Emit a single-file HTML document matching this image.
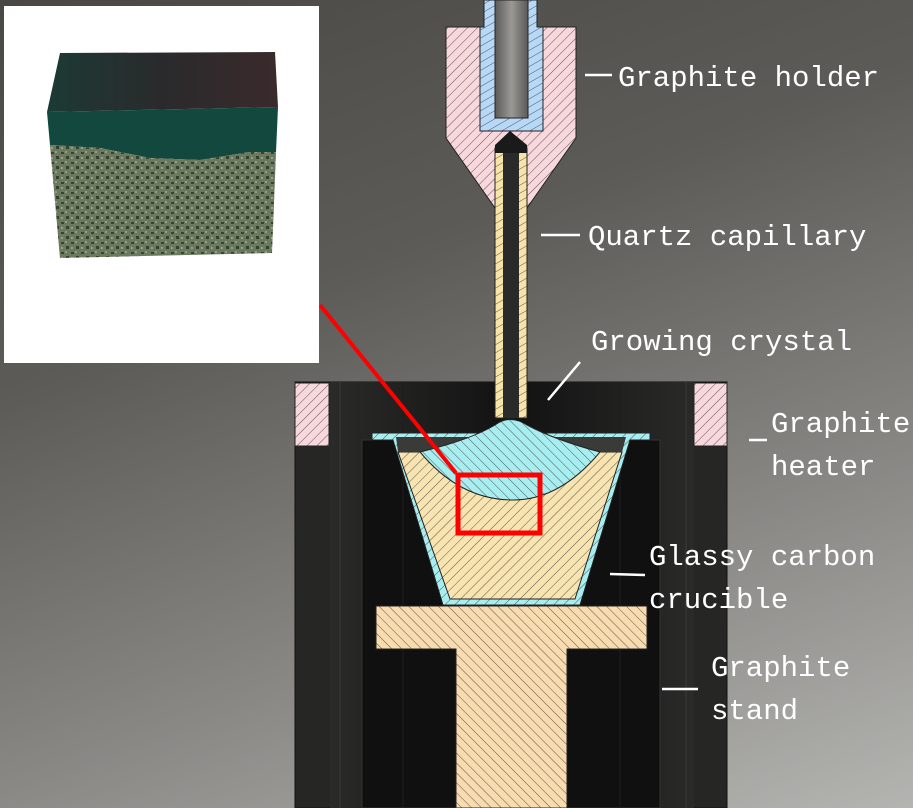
<!DOCTYPE html>
<html><head><style>
html,body{margin:0;padding:0}
body{width:913px;height:808px;overflow:hidden;background:linear-gradient(160deg,#4a4844 0%,#5c5b57 35%,#8a8986 70%,#b4b4b1 100%)}
text{font-family:"Liberation Mono","DejaVu Sans Mono",monospace;font-size:29px;fill:#fff}
</style></head><body>
<svg width="913" height="808" viewBox="0 0 913 808" xmlns="http://www.w3.org/2000/svg" style="position:absolute;left:0;top:0">
<defs>
<pattern id="h1" width="7" height="7" patternUnits="userSpaceOnUse" patternTransform="rotate(45)"><line x1="0" y1="0" x2="0" y2="7" stroke="#333" stroke-width="0.8"/></pattern>
<pattern id="h2" width="7" height="7" patternUnits="userSpaceOnUse" patternTransform="rotate(-45)"><line x1="0" y1="0" x2="0" y2="7" stroke="#333" stroke-width="0.8"/></pattern>
<pattern id="h3" width="7" height="7" patternUnits="userSpaceOnUse" patternTransform="rotate(60)"><line x1="0" y1="0" x2="0" y2="7" stroke="#333" stroke-width="0.8"/></pattern>
<linearGradient id="rod" x1="0" x2="1"><stop offset="0" stop-color="#5a5a58"/><stop offset="0.5" stop-color="#9a9996"/><stop offset="1" stop-color="#5a5a58"/></linearGradient>
<linearGradient id="wall" x1="0" x2="1"><stop offset="0" stop-color="#2a2a29"/><stop offset="0.5" stop-color="#121212"/><stop offset="1" stop-color="#2a2a29"/></linearGradient>
<linearGradient id="topface" x1="0" x2="1"><stop offset="0" stop-color="#1c3a34"/><stop offset="0.5" stop-color="#2a2a2c"/><stop offset="1" stop-color="#3a2a2c"/></linearGradient>
<pattern id="speck" width="10" height="10" patternUnits="userSpaceOnUse"><rect width="10" height="10" fill="#7d8a6e"/><rect x="1" y="2" width="3" height="2" fill="#2c3a2a"/><rect x="6" y="6" width="3" height="3" fill="#2a3526"/><rect x="5" y="1" width="2" height="2" fill="#b8c4a4"/><rect x="1" y="7" width="2" height="2" fill="#c0c8ae"/></pattern>
</defs>
<rect x="295" y="382" width="432" height="426" fill="#262625" stroke="#111"/>
<rect x="330" y="382" width="364" height="426" fill="url(#wall)"/>
<rect x="362" y="440" width="298" height="368" fill="#101010" stroke="#333"/>
<line x1="340" y1="382" x2="340" y2="808" stroke="#3a3a38"/>
<line x1="686" y1="382" x2="686" y2="808" stroke="#3a3a38"/>
<line x1="403" y1="382" x2="403" y2="808" stroke="#1e1e1e"/>
<line x1="620" y1="382" x2="620" y2="808" stroke="#1e1e1e"/>
<rect x="295" y="383" width="34" height="63" fill="#f8d8dc"/><rect x="295" y="383" width="34" height="63" fill="url(#h1)" stroke="#222"/>
<rect x="694" y="383" width="33" height="63" fill="#f8d8dc"/><rect x="694" y="383" width="33" height="63" fill="url(#h1)" stroke="#222"/>
<path d="M372 433 L650 433 L650 440 L630 440 L580 605 L443 605 L393 440 L372 440 Z" fill="#a8eef0"/>
<path d="M372 433 L650 433 L650 440 L630 440 L580 605 L443 605 L393 440 L372 440 Z" fill="url(#h1)" stroke="#222"/>
<path d="M398 452 L622 452 L575 599 L450 599 Z" fill="#f8e4b0"/>
<path d="M398 452 L622 452 L575 599 L450 599 Z" fill="url(#h1)" stroke="#222"/>
<path d="M396 437 L626 437 L622 452 L398 452 Z" fill="#3a3a38"/>
<path d="M420 452 Q470 440 495 425 Q510 414 527 425 Q555 440 600 452 Q560 500 513 500 Q460 500 420 452 Z" fill="#a8eef0"/>
<path d="M420 452 Q470 440 495 425 Q510 414 527 425 Q555 440 600 452 Q560 500 513 500 Q460 500 420 452 Z" fill="url(#h2)" stroke="#222"/>
<path d="M376 606 L647 606 L647 649 L567 649 L567 808 L456 808 L456 649 L376 649 Z" fill="#f8dcb0"/>
<path d="M376 606 L647 606 L647 649 L567 649 L567 808 L456 808 L456 649 L376 649 Z" fill="url(#h2)" stroke="#222"/>
<path d="M446 27 L484 27 L484 0 L537 0 L537 27 L576 27 L576 138 L527 208 L495 208 L446 138 Z" fill="#f8d8dc"/>
<path d="M446 27 L484 27 L484 0 L537 0 L537 27 L576 27 L576 138 L527 208 L495 208 L446 138 Z" fill="url(#h1)" stroke="#222"/>
<path d="M480 27 L484 27 L484 0 L537 0 L537 27 L543 27 L543 131 L480 131 Z" fill="#b8d8f8"/>
<path d="M480 27 L484 27 L484 0 L537 0 L537 27 L543 27 L543 131 L480 131 Z" fill="url(#h3)" stroke="#222"/>
<rect x="495" y="0" width="33" height="118" fill="url(#rod)" stroke="#222"/>
<rect x="495" y="148" width="32" height="270" fill="#f8e4a8"/>
<rect x="495" y="148" width="32" height="270" fill="url(#h3)" stroke="#222"/>
<rect x="503" y="150" width="16" height="268" fill="#2a2a2a"/>
<path d="M495 145 L510 131 L527 145 L527 153 L495 153 Z" fill="#1a1a1a"/>
<line x1="320" y1="305" x2="456" y2="473" stroke="#f00" stroke-width="4"/>
<rect x="458" y="475" width="82" height="58" fill="none" stroke="#f00" stroke-width="5"/>
<rect x="4" y="6" width="315" height="357" fill="#fff"/>
<path d="M60 53 L275 52 L278 107 L47 112 Z" fill="url(#topface)"/>
<path d="M47 112 L278 107 L276 152 L250 152 L200 160 L150 158 L100 148 L50 145 Z" fill="#12483e"/>
<path d="M50 145 L100 148 L150 158 L200 160 L250 152 L276 152 L272 253 L60 258 Z" fill="url(#speck)"/>
<path d="M50 145 L100 148 L150 158 L200 160 L250 152 L276 152 L272 253 L60 258 Z" fill="#4a5a44" opacity="0.35"/>
<g stroke="#fff" stroke-width="2.5">
<line x1="585" y1="75" x2="612" y2="75"/>
<line x1="541" y1="235" x2="580" y2="235"/>
<line x1="548" y1="400" x2="580" y2="362"/>
<line x1="749" y1="440" x2="767" y2="440"/>
<line x1="610" y1="574" x2="645" y2="575"/>
<line x1="662" y1="689" x2="698" y2="689"/>
</g>
<text x="618" y="86">Graphite holder</text>
<text x="588" y="245">Quartz capillary</text>
<text x="591" y="350">Growing crystal</text>
<text x="771" y="432">Graphite</text>
<text x="771" y="475">heater</text>
<text x="649" y="565">Glassy carbon</text>
<text x="649" y="608">crucible</text>
<text x="711" y="676">Graphite</text>
<text x="711" y="719">stand</text>
</svg>
</body></html>
